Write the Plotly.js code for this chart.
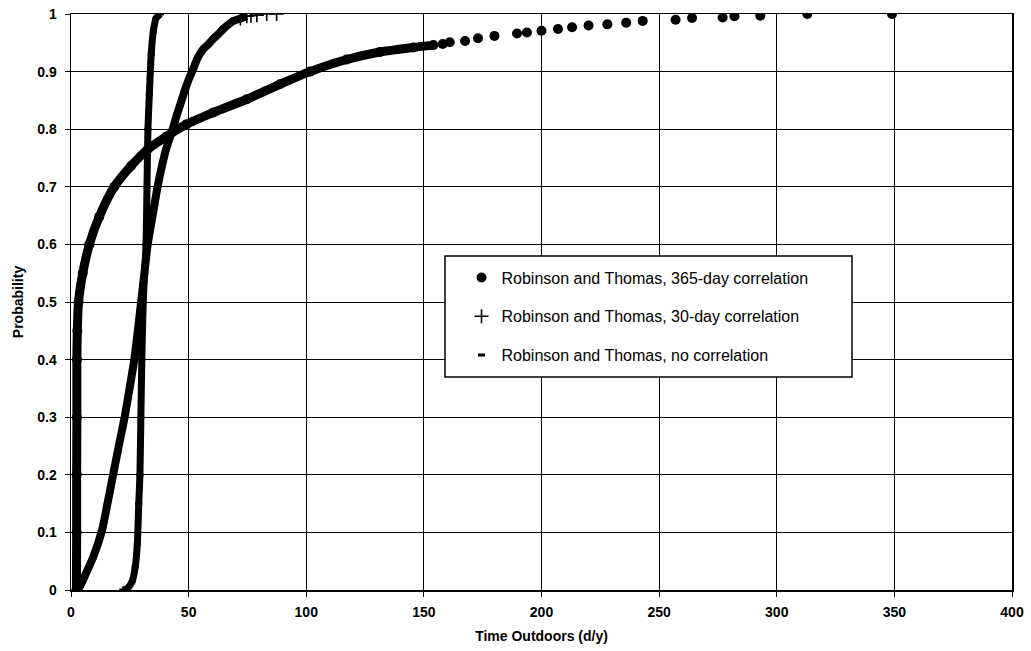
<!DOCTYPE html>
<html>
<head>
<meta charset="utf-8">
<script src="https://cdn.plot.ly/plotly-3.0.1.min.js"></script>
<style>html,body{margin:0;padding:0;background:#fff;}#chart{width:1031px;height:651px;}</style>
</head>
<body>
<div id="chart"></div>
<script>
// Robinson and Thomas, 365-day correlation (dense part then sparse dots)
const rt365DenseX = [2.3, 2.4, 2.4, 2.5, 2.5, 2.7, 3.2, 5, 7.8, 12, 18.4, 25.5, 32.6, 40.4, 48.9, 60.5, 74.7, 88.8, 101.6, 117.2, 131.3, 145.5, 154];
const rt365DenseY = [0, 0.1, 0.2, 0.3, 0.4, 0.45, 0.5, 0.55, 0.6, 0.648, 0.70, 0.736, 0.765, 0.787, 0.808, 0.829, 0.852, 0.878, 0.90, 0.921, 0.934, 0.942, 0.946];
const rt365SparseX = [158, 161, 167.5, 173, 180, 189.6, 193.8, 200, 207, 213, 220, 228, 236, 243, 257, 264, 277, 282, 293, 313, 349];
const rt365SparseY = [0.948, 0.951, 0.953, 0.958, 0.962, 0.966, 0.968, 0.971, 0.974, 0.977, 0.980, 0.982, 0.985, 0.988, 0.990, 0.993, 0.994, 0.996, 0.997, 1.0, 1.0];

// Robinson and Thomas, 30-day correlation
const rt30DenseX = [2.4, 3.8, 6.5, 9.5, 13.2, 15.5, 17.9, 20.3, 22.8, 24.9, 26.9, 28.4, 29.8, 31.2, 32.6, 34.7, 36.8, 38.6, 40.4, 43.2, 45, 47, 48.6, 50.2, 52, 53.6, 56.2, 58.3, 60.5, 62.6, 64.7, 67, 69, 72, 74.7];
const rt30DenseY = [0, 0.006, 0.03, 0.058, 0.104, 0.15, 0.2, 0.25, 0.3, 0.35, 0.4, 0.45, 0.5, 0.55, 0.6, 0.65, 0.7, 0.735, 0.765, 0.8, 0.825, 0.85, 0.87, 0.888, 0.905, 0.922, 0.939, 0.947, 0.957, 0.965, 0.974, 0.982, 0.988, 0.992, 0.996];
const rt30SparseX = [72, 74.7, 76.5, 79, 83.2, 87.4];
const rt30SparseY = [0.992, 0.996, 0.997, 0.998, 1.0, 1.0];

// Robinson and Thomas, no correlation
const rtNoX = [22, 24, 26, 27.3, 28.2, 28.8, 29.3, 29.7, 30.1, 30.7, 31.3, 31.9, 32.3, 32.7, 33.3, 34.1, 35, 36.2, 38];
const rtNoY = [0, 0.003, 0.015, 0.04, 0.08, 0.15, 0.2, 0.3, 0.4, 0.5, 0.55, 0.6, 0.7, 0.8, 0.86, 0.93, 0.97, 0.993, 1.0];

const legendNames = [
  'Robinson and Thomas, 365-day correlation',
  'Robinson and Thomas, 30-day correlation',
  'Robinson and Thomas, no correlation'
];

const black = '#000000';
const traces = [
  {x: rt365DenseX, y: rt365DenseY, mode: 'lines', line: {color: black, width: 9, shape: 'spline', smoothing: 0.8}, showlegend: false, hoverinfo: 'skip'},
  {x: rt30DenseX, y: rt30DenseY, mode: 'lines', line: {color: black, width: 8, shape: 'spline', smoothing: 0.6}, showlegend: false, hoverinfo: 'skip'},
  {x: rtNoX, y: rtNoY, mode: 'lines', line: {color: black, width: 7, shape: 'spline', smoothing: 0.6}, showlegend: false, hoverinfo: 'skip'},
  {x: rt365DenseX.concat(rt365SparseX), y: rt365DenseY.concat(rt365SparseY), mode: 'markers', name: legendNames[0], legendgroup: 'a',
   marker: {symbol: 'circle', size: 10, color: black}},
  {x: rt30SparseX, y: rt30SparseY, mode: 'markers', name: legendNames[1], legendgroup: 'b',
   marker: {symbol: 'cross-thin', size: 10, color: black, line: {color: black, width: 1.6}}},
  {x: rtNoX, y: rtNoY, mode: 'markers', name: legendNames[2], legendgroup: 'c',
   marker: {symbol: 'line-ew', size: 5, color: black, line: {color: black, width: 3}}}
];

const axisCommon = {
  showgrid: true, gridcolor: black, gridwidth: 1,
  showline: true, linecolor: black, linewidth: 1.5, mirror: true,
  ticks: 'outside', ticklen: 5, tickcolor: black, tickwidth: 1,
  zeroline: false,
  tickfont: {family: 'Liberation Sans, Arial, sans-serif', size: 14, color: black, weight: 'bold'}
};

const layout = {
  width: 1031, height: 651,
  margin: {l: 71, r: 19, t: 14, b: 61},
  paper_bgcolor: '#ffffff', plot_bgcolor: '#ffffff',
  font: {family: 'Liberation Sans, Arial, sans-serif', color: black},
  showlegend: true,
  xaxis: Object.assign({}, axisCommon, {
    range: [0, 400], dtick: 50, tick0: 0, ticklabelstandoff: 4,
    title: {text: 'Time Outdoors (d/y)', font: {size: 14, weight: 'bold', color: black}, standoff: 12}
  }),
  yaxis: Object.assign({}, axisCommon, {
    range: [0, 1], dtick: 0.1, tick0: 0, ticklabelstandoff: 5,
    title: {text: 'Probability', font: {size: 14, weight: 'bold', color: black}, standoff: 10}
  }),
  legend: {
    x: 0.415, y: 0.572, xanchor: 'left', yanchor: 'top',
    bgcolor: 'rgba(0,0,0,0)', borderwidth: 0,
    font: {size: 16, color: black},
    tracegroupgap: 15
  },
  shapes: [
    {type: 'rect', xref: 'paper', yref: 'paper',
     x0: (445 - 71) / 941, x1: (852 - 71) / 941,
     y0: (590 - 377) / 576, y1: (590 - 256) / 576,
     fillcolor: '#ffffff', line: {color: black, width: 1.5}, layer: 'above'}
  ]
};

Plotly.newPlot('chart', traces, layout, {displayModeBar: false, staticPlot: true});
</script>
</body>
</html>
